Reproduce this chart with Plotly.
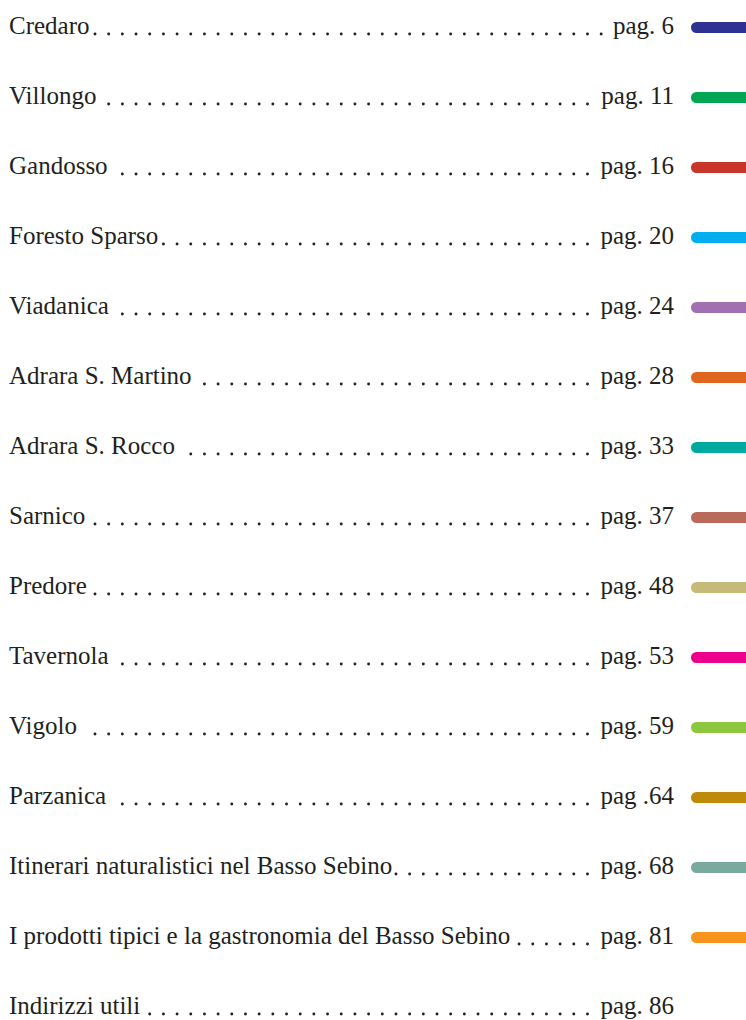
import plotly.graph_objects as go

titles = ["Credaro", "Villongo", "Gandosso", "Foresto Sparso", "Viadanica",
          "Adrara S. Martino", "Adrara S. Rocco", "Sarnico", "Predore", "Tavernola",
          "Vigolo", "Parzanica", "Itinerari naturalistici nel Basso Sebino",
          "I prodotti tipici e la gastronomia del Basso Sebino", "Indirizzi utili"]
pages = ["pag. 6", "pag. 11", "pag. 16", "pag. 20", "pag. 24", "pag. 28", "pag. 33",
         "pag. 37", "pag. 48", "pag. 53", "pag. 59", "pag .64", "pag. 68", "pag. 81", "pag. 86"]
colors = ["#2E3192", "#00A651", "#C8352A", "#00AEEF", "#A070B0", "#E0661F", "#00A99D",
          "#BA6A5A", "#C5BA78", "#EC008C", "#8DC63F", "#BF8A0A", "#7AA99E", "#F7941D", None]

# layout constants (window pixels)
W, H = 746, 1020
ROW0, ROW_STEP = 27.5, 70.0
TEXT_X, PAGE_RX = 9, 674
FS = 25
DOT0, DOT_STEP = 95.0, 13.68
BAR_L, BAR_R, BAR_H = 691, 746, 11
FONT = "Liberation Serif"
INK = "#231F20"

# Times / Liberation Serif advance widths (1/1000 em)
_w = {' ': 250, '.': 250}
_w.update(dict(zip("abcdefghijklmnopqrstuvwxyz",
                   [444, 500, 444, 500, 444, 333, 500, 500, 278, 278, 500, 278, 778,
                    500, 500, 500, 500, 333, 389, 278, 500, 500, 722, 500, 500, 444])))
_w.update(dict(zip("ABCDEFGHIJKLMNOPQRSTUVWXYZ",
                   [722, 667, 667, 722, 611, 556, 722, 722, 333, 389, 722, 611, 889,
                    722, 722, 556, 722, 667, 556, 611, 722, 722, 944, 722, 722, 611])))
_w.update({d: 500 for d in "0123456789"})


def text_width(s):
    return sum(_w.get(c, 500) for c in s) / 1000.0 * FS


ys = [ROW0 + ROW_STEP * i for i in range(len(titles))]

fig = go.Figure()

# colour tabs: straight body + round cap on the left
bar_idx = [i for i, c in enumerate(colors) if c]
cap_x = BAR_L + BAR_H / 2
fig.add_trace(go.Bar(
    orientation="h",
    y=[ys[i] for i in bar_idx],
    x=[BAR_R - cap_x] * len(bar_idx),
    base=[cap_x] * len(bar_idx),
    width=[BAR_H] * len(bar_idx),
    marker=dict(color=[colors[i] for i in bar_idx], line=dict(width=0)),
    hoverinfo="skip", showlegend=False,
))
fig.add_trace(go.Scatter(
    x=[cap_x] * len(bar_idx), y=[ys[i] for i in bar_idx], mode="markers",
    marker=dict(size=BAR_H, color=[colors[i] for i in bar_idx], line=dict(width=0)),
    hoverinfo="skip", showlegend=False,
))

# leader dots
dx, dy = [], []
for i, (t, p) in enumerate(zip(titles, pages)):
    start = TEXT_X + text_width(t) + 3
    end = PAGE_RX - text_width(p) - 4
    k = 0
    while True:
        x = DOT0 + DOT_STEP * k
        if x > end:
            break
        if x >= start:
            dx.append(x)
            dy.append(ys[i] + 6.5)
        k += 1
fig.add_trace(go.Scatter(x=dx, y=dy, mode="markers",
                         marker=dict(size=2.9, color=INK, line=dict(width=0)),
                         hoverinfo="skip", showlegend=False))

# titles and pages
fig.add_trace(go.Scatter(x=[TEXT_X] * len(titles), y=ys, mode="text", text=titles,
                         textposition="middle right",
                         textfont=dict(family=FONT, size=FS, color=INK),
                         hoverinfo="skip", showlegend=False))
fig.add_trace(go.Scatter(x=[PAGE_RX] * len(pages), y=ys, mode="text", text=pages,
                         textposition="middle left",
                         textfont=dict(family=FONT, size=FS, color=INK),
                         hoverinfo="skip", showlegend=False))

fig.update_layout(
    width=W, height=H,
    margin=dict(l=0, r=0, t=0, b=0),
    paper_bgcolor="white", plot_bgcolor="white",
    xaxis=dict(range=[0, W], visible=False, fixedrange=True),
    yaxis=dict(range=[H, 0], visible=False, fixedrange=True),
    hovermode=False,
)

fig.write_html(
    "out.html",
    config={"displayModeBar": False},
    post_script="document.body.style.margin='0';document.body.style.overflow='hidden';",
)
